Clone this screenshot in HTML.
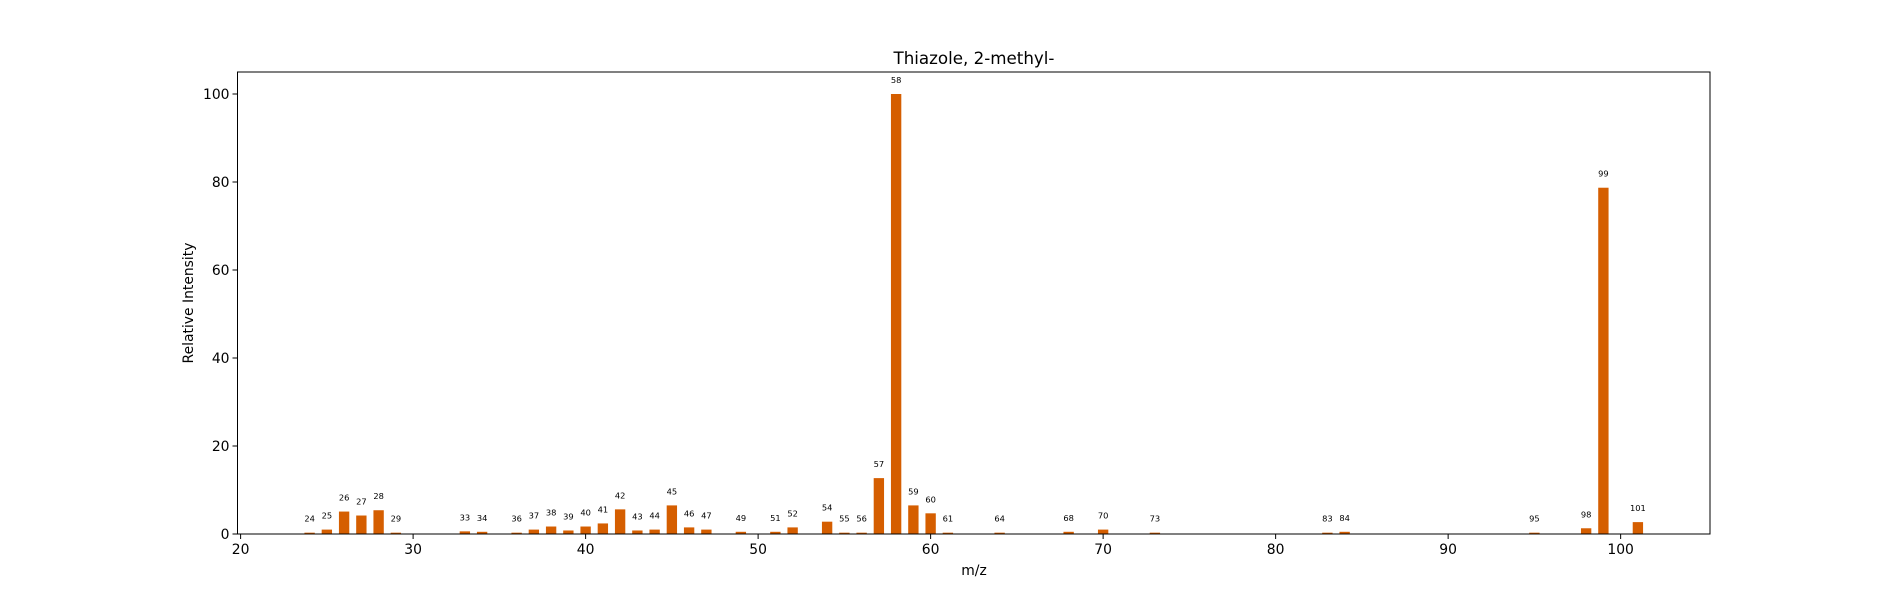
<!DOCTYPE html>
<html><head><meta charset="utf-8"><style>
body{margin:0;background:#fff}
svg{display:block;font-family:"DejaVu Sans","Liberation Sans",sans-serif}
</style></head><body>
<svg id="chart" width="1900" height="600" viewBox="0 0 1900 600" xmlns="http://www.w3.org/2000/svg">
<rect width="1900" height="600" fill="#fff"/>
<text x="974" y="64" font-size="16.7" text-anchor="middle">Thiazole, 2-methyl-</text>
<g id="bars"></g>
<g id="labels"></g>
<g id="axes"></g>
<rect x="237.5" y="72" width="1472.5" height="462" fill="none" stroke="#000" stroke-width="1"/>
<text x="974" y="575" font-size="13.9" text-anchor="middle">m/z</text>
<text transform="translate(193,303) rotate(-90)" font-size="13.9" text-anchor="middle">Relative Intensity</text>
</svg>
<script>
const mz = [24,25,26,27,28,29,33,34,36,37,38,39,40,41,42,43,44,45,46,47,49,51,52,54,55,56,57,58,59,60,61,64,68,70,73,83,84,95,98,99,101];
const intensity = [0.3,1.0,5.1,4.2,5.4,0.3,0.6,0.5,0.3,1.0,1.7,0.8,1.7,2.4,5.6,0.8,1.0,6.5,1.5,1.0,0.5,0.5,1.5,2.8,0.3,0.3,12.7,100,6.5,4.7,0.3,0.3,0.5,1.0,0.3,0.3,0.5,0.3,1.3,78.7,2.7];
const xTicks = [20,30,40,50,60,70,80,90,100];
const yTicks = [0,20,40,60,80,100];
const NS="http://www.w3.org/2000/svg";
const L=237.5,R=1710,T=72,B=534;
const xmin=19.82,xmax=105.18,ymin=0,ymax=105;
const xs=v=>L+(v-xmin)/(xmax-xmin)*(R-L);
const ys=v=>B-(v-ymin)/(ymax-ymin)*(B-T);
const bw=0.6;
const bars=document.getElementById('bars'),labels=document.getElementById('labels'),axes=document.getElementById('axes');
function mk(tag,attrs){const e=document.createElementNS(NS,tag);for(const k in attrs)e.setAttribute(k,attrs[k]);return e;}
mz.forEach((m,i)=>{
  const x0=xs(m-bw/2),x1=xs(m+bw/2),y=ys(intensity[i]);
  const r=mk('rect',{x:x0,y:y,width:x1-x0,height:B-y,fill:'#d55e00'});
  
  
  bars.appendChild(r);
  const t=mk('text',{x:xs(m),y:y-11,'font-size':'8.3','text-anchor':'middle'});
  t.textContent=m;
  
  
  labels.appendChild(t);
});
xTicks.forEach(v=>{
  const x=xs(v);
  const l=mk('line',{x1:x,x2:x,y1:B,y2:B+5,stroke:'#000'});
  
  
  axes.appendChild(l);
  const t=mk('text',{x:x,y:B+20,'font-size':'13.9','text-anchor':'middle'});
  t.textContent=v;
  
  
  axes.appendChild(t);
});
yTicks.forEach(v=>{
  const y=ys(v);
  const l=mk('line',{x1:L-5,x2:L,y1:y,y2:y,stroke:'#000'});
  
  
  axes.appendChild(l);
  const t=mk('text',{x:L-8,y:y+5,'font-size':'13.9','text-anchor':'end'});
  t.textContent=v;
  
  
  axes.appendChild(t);
});
</script>
</body></html>
